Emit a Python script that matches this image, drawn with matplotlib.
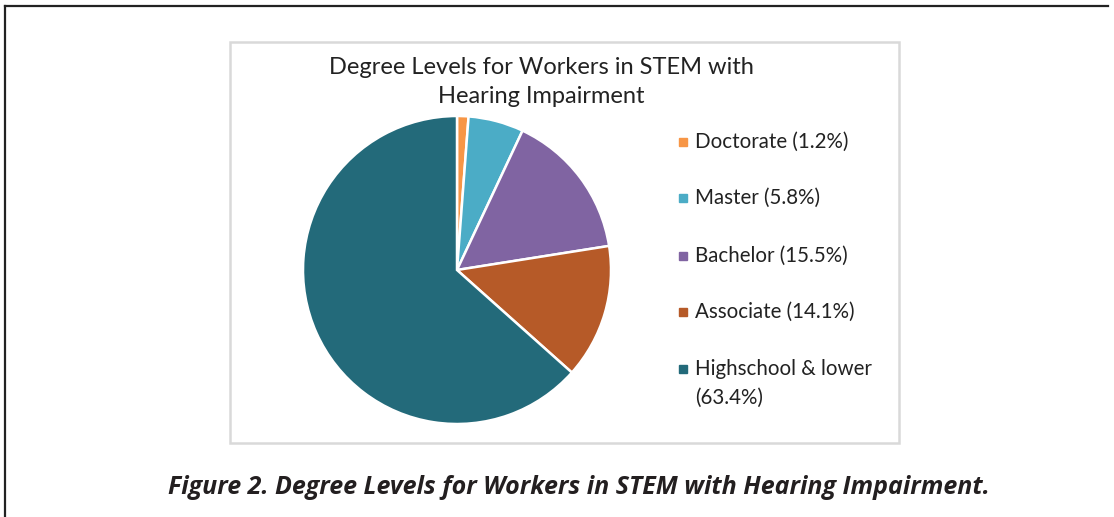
import matplotlib
matplotlib.use("Agg")
import matplotlib.pyplot as plt
from matplotlib.lines import Line2D
from matplotlib.patches import Rectangle

categories = ["Doctorate", "Master", "Bachelor", "Associate", "Highschool & lower"]
values = [1.2, 5.8, 15.5, 14.1, 63.4]
legend_labels = ["Doctorate (1.2%)", "Master (5.8%)", "Bachelor (15.5%)",
                 "Associate (14.1%)", "Highschool & lower\n(63.4%)"]
colors = ["#F79646", "#4BACC6", "#8064A2", "#B65A28", "#236A7A"]
title = "Degree Levels for Workers in STEM with\nHearing Impairment"
caption = "Figure 2. Degree Levels for Workers in STEM with Hearing Impairment."

W, H = 1114, 517
fig = plt.figure(figsize=(W / 100, H / 100), dpi=100)

def fx(x):
    return x / W

def fy(y):
    return 1 - y / H

# outer border (top and left visible)
fig.add_artist(Line2D([fx(5), fx(1108)], [fy(6), fy(6)], color="#222222", lw=1.6,
                      transform=fig.transFigure))
fig.add_artist(Line2D([fx(5), fx(5)], [fy(6), fy(517)], color="#222222", lw=1.6,
                      transform=fig.transFigure))

# inner chart frame
fig.add_artist(Rectangle((fx(230), fy(443)), fx(899) - fx(230), fy(42) - fy(443),
                         transform=fig.transFigure, fill=False, edgecolor="#D9D9D9", lw=1.8))

# pie
cx, cy, r = 457, 270, 154
ax = fig.add_axes([fx(cx - r), fy(cy + r), fx(2 * r), fy(cy - r) - fy(cy + r)])
ax.pie(values, colors=colors, startangle=90, counterclock=False, radius=1.0,
       wedgeprops=dict(edgecolor="white", linewidth=1.8))
ax.set_xlim(-1.0, 1.0)
ax.set_ylim(-1.0, 1.0)
ax.set_aspect("equal")
ax.axis("off")

# title
fig.text(fx(541), fy(82), title, ha="center", va="center", fontsize=17.0,
         family="Lato", color="#222222", linespacing=1.5)

# legend
rows = [142, 198, 256, 312, 369]
for lab, col, y in zip(legend_labels, colors, rows):
    fig.add_artist(Rectangle((fx(679), fy(y + 4)), fx(8), fy(0) - fy(8),
                             transform=fig.transFigure, color=col))
    if "\n" in lab:
        fig.text(fx(695), fy(y - 10), lab, ha="left", va="top",
                 fontsize=14.8, family="Lato", color="#222222", linespacing=1.55)
    else:
        fig.text(fx(695), fy(y), lab, ha="left", va="center",
                 fontsize=14.8, family="Lato", color="#222222")

# caption
fig.text(fx(579), fy(487), caption, ha="center", va="center", fontsize=18,
         family="Open Sans", fontweight="bold", fontstyle="italic", color="#231F20")

fig.savefig("out.png", dpi=100)
